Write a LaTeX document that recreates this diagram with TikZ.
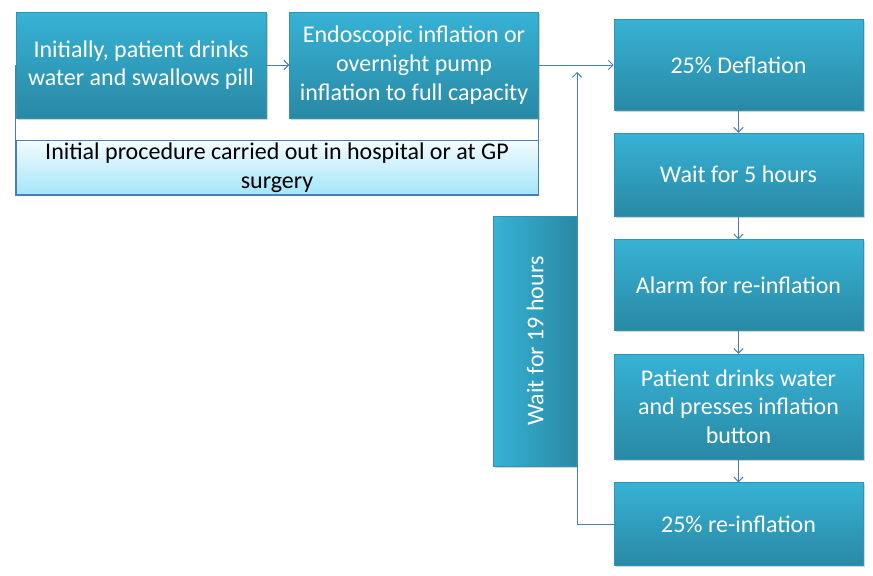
\documentclass[tikz,border=0pt]{standalone}
\usepackage{fontspec}
\setmainfont{Carlito}
\usepackage{xcolor}
\usetikzlibrary{shapes,arrows.meta,positioning,calc,shadows,backgrounds}

\definecolor{boxtop}{RGB}{55,178,213}
\definecolor{boxbot}{RGB}{41,137,165}
\definecolor{paletop}{RGB}{244,252,255}
\definecolor{palebot}{RGB}{163,229,248}
\definecolor{linecol}{RGB}{74,126,187}

\begin{document}
\begin{tikzpicture}[x=0.75pt, y=-0.75pt,
    font=\fontsize{18}{21.5}\selectfont,
    boxshadow/.style={drop shadow={shadow xshift=1.2pt, shadow yshift=-1.2pt, opacity=0.35, fill=black!50}},
    stepbox/.style={rectangle, draw=boxbot!70!boxtop, line width=0.4pt, top color=boxtop, bottom color=boxbot,
        text=white, align=center, inner sep=2pt, minimum width=186.75pt, boxshadow},
    sidebox/.style={rectangle, draw=boxbot!70!boxtop, line width=0.4pt, left color=boxtop, right color=boxbot,
        minimum width=62.25pt, minimum height=187.5pt, boxshadow},
    notebox/.style={rectangle, draw=linecol, line width=0.6pt, top color=paletop, bottom color=palebot,
        text=black, align=center, inner sep=2pt, minimum width=391.5pt, minimum height=39.75pt},
    link/.style={draw=linecol, line width=0.75pt},
    >={Straight Barb[length=3.5pt, width=7pt]}]
    \useasboundingbox (0,0) rectangle (873,575);

    % top row
    \node (pill) [stepbox, minimum width=187.5pt, minimum height=79.5pt] at (141,65) {Initially, patient drinks\\water and swallows pill};
    \node (inflate) [stepbox, minimum height=79.5pt, right=17.25pt of pill] {Endoscopic inflation or\\overnight pump\\inflation to full capacity};
    \node (hospital) [notebox] at (277,167.5) {Initial procedure carried out in hospital or at GP\\surgery};

    % right column
    \node (deflate) [stepbox, minimum height=68.25pt] at (738.5,65) {25\% Deflation};
    \node (wait5) [stepbox, minimum height=62.25pt, below=16.5pt of deflate] {Wait for 5 hours};
    \node (alarm) [stepbox, minimum height=68.25pt, below=17.25pt of wait5] {Alarm for re-inflation};
    \node (button) [stepbox, minimum height=78.75pt, below=17.25pt of alarm] {Patient drinks water\\and presses inflation\\button};
    \node (reinflate) [stepbox, minimum height=62.25pt, below=17.25pt of button] {25\% re-inflation};

    % loop box
    \node (wait19) [sidebox] at (535,341) {};
    \node (wait19txt) [text=white, rotate=90] at (wait19.center) {Wait for 19 hours};
    \coordinate (back) at (577,72);

    \begin{scope}[on background layer]
        \draw [link] (pill.west) rectangle (hospital.south east);
    \end{scope}

    \draw [link, ->] (pill) -- (inflate);
    \draw [link, ->] (inflate) -- (deflate);
    \draw [link, ->] (deflate) -- (wait5);
    \draw [link, ->] (wait5) -- (alarm);
    \draw [link, ->] (alarm) -- (button);
    \draw [link, ->] (button) -- (reinflate);
    \draw [link, ->] (reinflate.west) -| (back);
\end{tikzpicture}
\end{document}
